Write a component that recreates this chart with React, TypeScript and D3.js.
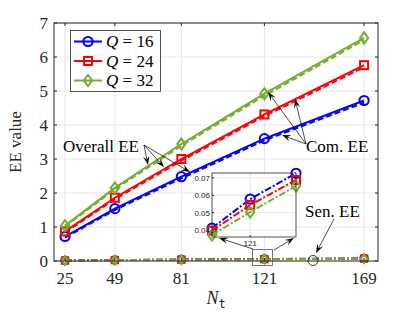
import React from "react";
import * as d3 from "d3";

const Nt = [25, 49, 81, 121, 169];
const xTicks = [25, 49, 81, 121, 169];
const yTicks = [0, 1, 2, 3, 4, 5, 6, 7];
const seriesNames = ["16", "24", "32"];
const colors = ["#0000ff", "#ff0000", "#77ac30"];
const markers = ["circle", "square", "diamond"];

const overallEE = [
  [0.72, 1.54, 2.48, 3.6, 4.72],
  [0.87, 1.86, 3.0, 4.31, 5.76],
  [1.04, 2.15, 3.44, 4.92, 6.56],
];
const comEE = [
  [0.69, 1.5, 2.43, 3.55, 4.66],
  [0.84, 1.82, 2.95, 4.26, 5.7],
  [1.01, 2.11, 3.39, 4.86, 6.5],
];
const senEE = [
  [0.015, 0.028, 0.043, 0.058, 0.075],
  [0.013, 0.026, 0.04, 0.054, 0.071],
  [0.012, 0.024, 0.037, 0.05, 0.067],
];

const insetX = [120, 121, 122.2];
const insetSen = [
  [0.0411, 0.0578, 0.0726],
  [0.0396, 0.0544, 0.0687],
  [0.0371, 0.0503, 0.0653],
];
const insetYTicks = [0.04, 0.05, 0.06, 0.07];
const insetXTicks = [121];

const W = 417, H = 313;
const M = { left: 54, top: 23, right: 378, bottom: 261 };
const serif = "'Liberation Serif', 'Times New Roman', serif";
const sans = "'Liberation Sans', Arial, sans-serif";

function Marker({ type, x, y, color, size = 1 }: any) {
  if (type === "circle") return <circle cx={x} cy={y} r={4.6 * size} fill="none" stroke={color} strokeWidth={2} />;
  if (type === "square") {
    const s = 4 * size;
    return <rect x={x - s} y={y - s} width={2 * s} height={2 * s} fill="none" stroke={color} strokeWidth={2} />;
  }
  const s = 5.5 * size;
  return <path d={`M${x},${y - s}L${x + s * 0.75},${y}L${x},${y + s}L${x - s * 0.75},${y}Z`} fill="none" stroke={color} strokeWidth={2} />;
}

function Arrow({ x1, y1, x2, y2 }: any) {
  const ang = Math.atan2(y2 - y1, x2 - x1);
  const L = 9, w = 3.2;
  const bx = x2 - L * Math.cos(ang), by = y2 - L * Math.sin(ang);
  const px = -Math.sin(ang) * w, py = Math.cos(ang) * w;
  const nx = x2 - 0.6 * L * Math.cos(ang), ny = y2 - 0.6 * L * Math.sin(ang);
  return (
    <g>
      <line x1={x1} y1={y1} x2={nx} y2={ny} stroke="#000" strokeWidth={0.7} />
      <path d={`M${x2},${y2}L${bx + px},${by + py}L${nx},${ny}L${bx - px},${by - py}Z`} fill="#000" />
    </g>
  );
}

export default function App() {
  const x = d3.scaleLinear().domain([19.7, 175.7]).range([M.left, M.right]);
  const y = d3.scaleLinear().domain([0, 7]).range([M.bottom, M.top]);
  const line = (vals: number[]) =>
    d3.line<number>().x((_, i) => x(Nt[i])).y((d) => y(d))(vals) as string;

  // inset
  const I = { left: 212, right: 296, top: 173, bottom: 237 };
  const ix = d3.scaleLinear().domain([120, 122.2]).range([I.left, I.right]);
  const iy = d3.scaleLinear().domain([0.04, 0.07]).range([230, 177.8]);
  const iline = (vals: number[]) =>
    d3.line<number>().x((_, i) => ix(insetX[i])).y((d) => iy(d))(vals) as string;

  return (
    <svg width={W} height={H} style={{ position: "absolute", left: 0, top: 0, background: "#fff" }}>
      <rect x={0} y={0} width={W} height={H} fill="#fff" />
      {/* grid */}
      {xTicks.map((t) => (
        <line key={"gx" + t} x1={x(t)} x2={x(t)} y1={M.top} y2={M.bottom} stroke="#e6e6e6" strokeWidth={1} />
      ))}
      {yTicks.map((t) => (
        <line key={"gy" + t} x1={M.left} x2={M.right} y1={y(t)} y2={y(t)} stroke="#e6e6e6" strokeWidth={1} />
      ))}
      {/* series */}
      {overallEE.map((vals, k) => (
        <g key={"s" + k}>
          <path d={line(comEE[k])} fill="none" stroke={colors[k]} strokeWidth={2} strokeDasharray="6,3" />
          <path d={line(vals)} fill="none" stroke={colors[k]} strokeWidth={2} />
          {vals.map((v, i) => (
            <Marker key={i} type={markers[k]} x={x(Nt[i])} y={y(v)} color={colors[k]} />
          ))}
        </g>
      ))}
      {senEE.map((vals, k) => (
        <g key={"sen" + k}>
          <path d={line(vals)} fill="none" stroke={colors[k]} strokeWidth={2} strokeDasharray="7,2,2,2" />
          {vals.map((v, i) => (
            <Marker key={i} type={markers[k]} x={x(Nt[i])} y={y(v)} color={colors[k]} size={0.8} />
          ))}
        </g>
      ))}
      {/* axes box */}
      <rect x={M.left} y={M.top} width={M.right - M.left} height={M.bottom - M.top} fill="none" stroke="#262626" strokeWidth={1} />
      {xTicks.map((t) => (
        <g key={"xt" + t}>
          <line x1={x(t)} x2={x(t)} y1={M.bottom} y2={M.bottom - 3} stroke="#262626" />
          <line x1={x(t)} x2={x(t)} y1={M.top} y2={M.top + 3} stroke="#262626" />
          <text x={x(t)} y={M.bottom + 23} textAnchor="middle" fontFamily={serif} fontSize={17} fill="#262626">{t}</text>
        </g>
      ))}
      {yTicks.map((t) => (
        <g key={"yt" + t}>
          <line x1={M.left} x2={M.left + 3} y1={y(t)} y2={y(t)} stroke="#262626" />
          <line x1={M.right} x2={M.right - 3} y1={y(t)} y2={y(t)} stroke="#262626" />
          <text x={M.left - 6} y={y(t) + 6} textAnchor="end" fontFamily={serif} fontSize={17} fill="#262626">{t}</text>
        </g>
      ))}
      <text transform={`translate(21,${(M.top + M.bottom) / 2}) rotate(-90)`} textAnchor="middle" fontFamily={serif} fontSize={17} fill="#262626">EE value</text>
      <text x={216} y={304} textAnchor="middle" fontFamily={serif} fontSize={18} fill="#262626">
        <tspan fontStyle="italic">N</tspan>
        <tspan fontFamily="'DejaVu Sans Mono', monospace" fontSize={12} dy={4}>t</tspan>
      </text>

      {/* legend */}
      <rect x={70.5} y={30.5} width={90} height={61} fill="#fff" stroke="#262626" strokeWidth={0.8} />
      {seriesNames.map((n, k) => {
        const ly = 41.5 + k * 19.5;
        return (
          <g key={"lg" + k}>
            <line x1={74} x2={102} y1={ly} y2={ly} stroke={colors[k]} strokeWidth={2} />
            <Marker type={markers[k]} x={88} y={ly} color={colors[k]} />
            <text x={106} y={ly + 5.5} fontFamily={serif} fontSize={17} fill="#000">
              <tspan fontStyle="italic">Q</tspan>
              <tspan> = {n}</tspan>
            </text>
          </g>
        );
      })}

      {/* annotations */}
      <text x={63} y={152} fontFamily={serif} fontSize={17} fill="#000">Overall EE</text>
      <Arrow x1={144} y1={145} x2={148} y2={165} />
      <Arrow x1={144} y1={145} x2={164} y2={167} />
      <Arrow x1={144} y1={145} x2={190} y2={172} />
      <text x={306} y={152} fontFamily={serif} fontSize={17} fill="#000">Com. EE</text>
      <Arrow x1={306} y1={144} x2={268} y2={92} />
      <Arrow x1={306} y1={144} x2={295} y2={99} />
      <Arrow x1={306} y1={144} x2={282} y2={135} />
      <text x={305} y={217} fontFamily={serif} fontSize={17} fill="#000">Sen. EE</text>
      <Arrow x1={334} y1={219} x2={316} y2={253} />
      <circle cx={313} cy={260.5} r={5} fill="none" stroke="#000" strokeWidth={0.8} />
      <rect x={252.5} y={249.5} width={20} height={16} fill="none" stroke="#555" strokeWidth={0.8} />
      <Arrow x1={253} y1={249} x2={219} y2={238} />
      <Arrow x1={274} y1={250} x2={294} y2={238} />

      {/* inset */}
      <rect x={I.left} y={I.top} width={I.right - I.left} height={I.bottom - I.top} fill="#fff" />
      {insetYTicks.map((t) => (
        <line key={"igy" + t} x1={I.left} x2={I.right} y1={iy(t)} y2={iy(t)} stroke="#e6e6e6" />
      ))}
      {insetXTicks.map((t) => (
        <line key={"igx" + t} x1={ix(t)} x2={ix(t)} y1={I.top} y2={I.bottom} stroke="#e6e6e6" />
      ))}
      {insetSen.map((vals, k) => (
        <g key={"is" + k}>
          <path d={iline(vals)} fill="none" stroke={colors[k]} strokeWidth={2} strokeDasharray="7,2,2,2" />
          {vals.map((v, i) => (
            <Marker key={i} type={markers[k]} x={ix(insetX[i])} y={iy(v)} color={colors[k]} />
          ))}
        </g>
      ))}
      <rect x={I.left} y={I.top} width={I.right - I.left} height={I.bottom - I.top} fill="none" stroke="#262626" strokeWidth={0.8} />
      {insetYTicks.map((t) => (
        <g key={"iyt" + t}>
          <line x1={I.left} x2={I.left + 2} y1={iy(t)} y2={iy(t)} stroke="#262626" />
          <text x={I.left - 2} y={iy(t) + 3} textAnchor="end" fontFamily={sans} fontSize={8} fill="#262626">{t.toFixed(2)}</text>
        </g>
      ))}
      {insetXTicks.map((t) => (
        <g key={"ixt" + t}>
          <line x1={ix(t)} x2={ix(t)} y1={I.bottom} y2={I.bottom - 2} stroke="#262626" />
          <text x={ix(t)} y={I.bottom + 9} textAnchor="middle" fontFamily={sans} fontSize={8} fill="#262626">{t}</text>
        </g>
      ))}
    </svg>
  );
}
